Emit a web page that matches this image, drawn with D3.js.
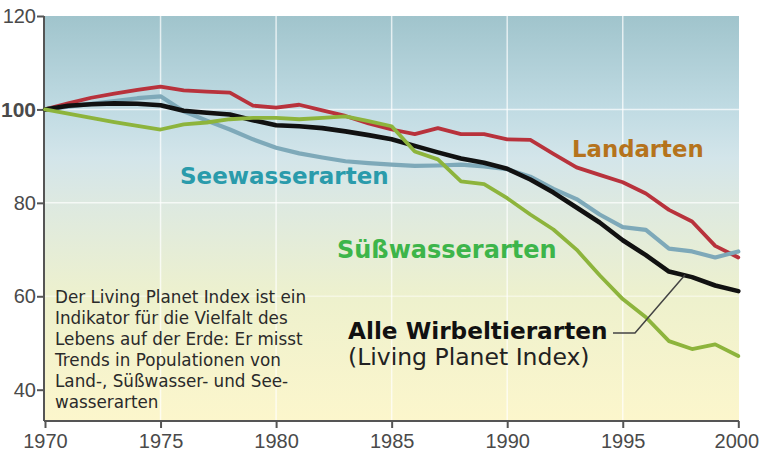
<!DOCTYPE html>
<html><head><meta charset="utf-8">
<script src="https://cdn.jsdelivr.net/npm/d3@7/dist/d3.min.js"></script>
<style>
html,body{margin:0;padding:0;background:#fff;}
svg{display:block;}
</style></head>
<body>
<svg id="chart" width="759" height="454"></svg>
<script>
const years = d3.range(1970, 2001);
const alleWirbeltierarten = [100,100.8,101.1,101.3,101.2,100.9,99.7,99.3,98.9,97.7,96.6,96.4,96.0,95.3,94.5,93.6,92.2,90.8,89.5,88.6,87.3,85.0,82.2,79.0,75.8,72.0,68.8,65.3,64.1,62.3,61.1];
const landarten = [100,101.3,102.5,103.4,104.2,104.9,104.1,103.8,103.6,100.8,100.4,101.0,99.8,98.6,97.0,95.7,94.7,96.0,94.7,94.7,93.6,93.5,90.5,87.6,86.0,84.4,82.0,78.5,76.0,70.8,68.3];
const seewasserarten = [100,100.6,101.2,101.8,102.4,102.8,99.6,97.6,95.7,93.6,91.8,90.6,89.7,88.9,88.5,88.2,87.9,88.0,88.2,87.8,87.2,85.6,83.0,80.8,77.5,74.8,74.2,70.2,69.6,68.3,69.6];
const suesswasserarten = [100,99.1,98.2,97.3,96.5,95.7,96.8,97.2,97.9,98.2,98.2,97.9,98.2,98.5,97.5,96.4,91.0,89.3,84.6,84.0,81.0,77.5,74.3,70.0,64.5,59.4,55.5,50.4,48.7,49.7,47.2];
const xTicks = [1970,1975,1980,1985,1990,1995,2000];
const yTicks = [40,60,80,100,120];
const gridY = [60,80,100];
const noteLines = ["Der Living Planet Index ist ein","Indikator für die Vielfalt des","Lebens auf der Erde: Er misst","Trends in Populationen von","Land-, Süßwasser- und See-","wasserarten"];

const svg = d3.select("#chart");
const x = d3.scaleLinear().domain([1970,2000]).range([45,738.3]);
const y = d3.scaleLinear().domain([33.3,120]).range([421,16]);

const defs = svg.append("defs");
const grad = defs.append("linearGradient").attr("id","bg").attr("x1",0).attr("y1",0).attr("x2",0).attr("y2",1);
[[0,"#a0c4cc"],[0.23,"#c0dbe3"],[0.35,"#d3e5ea"],[0.46,"#dde9e1"],[0.7,"#eef1cd"],[1,"#fcf6cc"]].forEach(s=>grad.append("stop").attr("offset",s[0]).attr("stop-color",s[1]));

svg.append("rect").attr("x",44).attr("y",y(120)).attr("width",739-44).attr("height",y(33.3)-y(120)).attr("fill","url(#bg)");

// grid
const g = svg.append("g");
g.selectAll(".vg").data(xTicks.slice(1,-1)).join("line")
  .attr("x1",d=>x(d)).attr("x2",d=>x(d)).attr("y1",y(120)).attr("y2",y(33.3))
  .attr("stroke","#fff").attr("stroke-opacity",0.7).attr("stroke-width",1.5);
g.selectAll(".hg").data(gridY).join("line")
  .attr("x1",44).attr("x2",739).attr("y1",d=>y(d)).attr("y2",d=>y(d))
  .attr("stroke","#fff").attr("stroke-opacity",d=>d===60?0.45:0.7).attr("stroke-width",1.5);

// axes
const yAxis = svg.append("g").attr("transform","translate(44,0)")
  .call(d3.axisLeft(y).tickValues(yTicks).tickSize(7).tickPadding(1));
const xAxis = svg.append("g").attr("transform",`translate(0,${y(33.3)})`)
  .call(d3.axisBottom(x).tickValues(xTicks).tickSize(7).tickPadding(6).tickFormat(d3.format("d")));
[yAxis,xAxis].forEach(a=>{
  a.select(".domain").attr("stroke","#555").attr("stroke-width",2);
  a.selectAll(".tick line").attr("stroke","#555").attr("stroke-width",2);
  a.selectAll(".tick text").attr("fill","#4a4a4a").style("font-family","'Liberation Sans Narrow','Arial Narrow',sans-serif").style("font-size","20px");
});
yAxis.selectAll(".tick text").filter(d=>d===100).style("font-weight","bold").style("font-size","21px");
xAxis.selectAll(".tick text").filter(d=>d===2000).attr("dx",-2);
xAxis.select(".domain").attr("d",`M44,0H739`);
yAxis.select(".domain").attr("d",`M0,${y(120)}V${y(33.3)}`);

// lines
const line = d3.line().x((d,i)=>x(years[i])).y(d=>y(d)).curve(d3.curveLinear);
const series = [
  {v:landarten,c:"#b8323c",w:3.8},
  {v:seewasserarten,c:"#7ea9b9",w:4.2},
  {v:alleWirbeltierarten,c:"#111",w:4.6},
  {v:suesswasserarten,c:"#8db43c",w:3.8}
];
svg.selectAll(".ser").data(series).join("path")
  .attr("d",d=>line(d.v)).attr("fill","none").attr("stroke",d=>d.c).attr("stroke-width",d=>d.w)
  .attr("stroke-linejoin","round").attr("stroke-linecap","round");

// labels
const F = "'DejaVu Sans',Verdana,sans-serif";
function lab(t,xx,yy,c,size,bold){
  svg.append("text").attr("x",xx).attr("y",yy).text(t).attr("fill",c)
    .style("font-family",F).style("font-size",size+"px").style("font-weight",bold?"bold":"normal");
}
lab("Landarten",572,157,"#b5731c",22.8,true);
lab("Seewasserarten",180,184,"#2a9bab",23,true);
lab("Süßwasserarten",337,258,"#3db54a",24,true);
lab("Alle Wirbeltierarten",348,339,"#111",23.2,true);
lab("(Living Planet Index)",348,365,"#222",23.5,false);

// leader
svg.append("path").attr("d",`M613,333H635L${x(1997.7)},${y(64.6)}`).attr("fill","none").attr("stroke","#444").attr("stroke-width",1.5);

// note
svg.append("g").selectAll("text").data(noteLines).join("text")
  .attr("x",55).attr("y",(d,i)=>302.5+i*21.1).text(d=>d).attr("fill","#2a2a2a")
  .style("font-family",F).style("font-size","16.8px");
</script>
</body></html>
